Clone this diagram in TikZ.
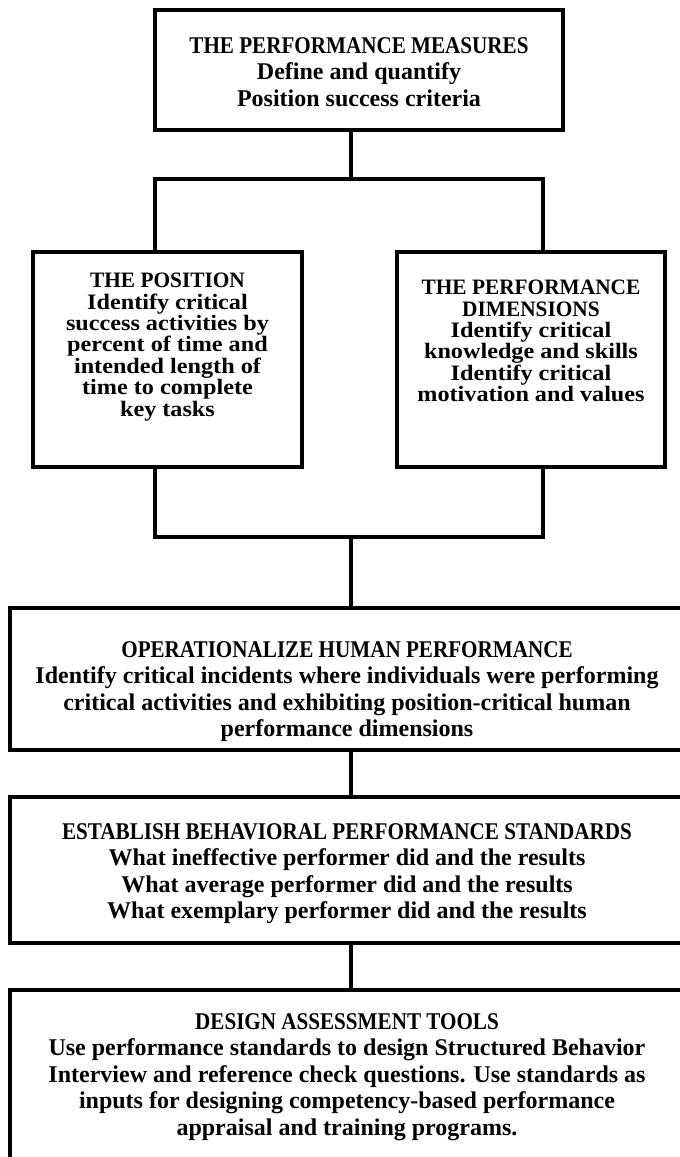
\documentclass[tikz,border=0pt]{standalone}
\usepackage{fontspec}
\setmainfont{Liberation Serif}
\newfontfamily\capsfont{Liberation Serif}[FakeStretch=0.88]
\newfontfamily\midfont{Liberation Serif}[FakeStretch=1.1]
\newfontfamily\midcapsfont{Liberation Serif}[FakeStretch=0.97]
\usetikzlibrary{positioning,calc}
\tikzstyle{box}=[draw, line width=3.5pt, inner sep=0pt, outer sep=0pt]
\tikzstyle{txt}=[inner sep=0pt, align=center, font=\bfseries\fontsize{24}{26.5}\selectfont]
\tikzstyle{midtxt}=[txt, font=\midfont\bfseries\fontsize{22}{21.4}\selectfont]
\tikzstyle{conn}=[line width=3.5pt, line cap=rect]
\newcommand{\wideW}{674pt}

\begin{document}
\begin{tikzpicture}[x=1pt,y=-1pt]
\useasboundingbox (0,0) rectangle (680,1157);
\node[box, minimum width=408pt, minimum height=120pt] (measures) at (359,70) {};
\node[box, minimum width=269pt, minimum height=215pt] (position) at (167.5,359.5) {};
\node[box, minimum width=268pt, minimum height=215pt] (dimensions) at (531,359.5) {};
\node[box, minimum width=\wideW, minimum height=142pt] (operational) at (347,679) {};
\node[box, minimum width=\wideW, minimum height=146pt] (standards) at (347,870) {};
\node[box, minimum width=\wideW, minimum height=185pt] (tools) at (347,1082.5) {};
\coordinate (fork) at (351,179);
\coordinate (forkL) at (155,179);
\coordinate (forkR) at (543,179);
\coordinate (joinL) at (155,537);
\coordinate (joinR) at (543,537);
\coordinate (join) at (351,537);
\node[txt, below=27pt of measures.north] (measurestxt)
  {{\capsfont THE PERFORMANCE MEASURES}\\Define and quantify\\Position success criteria};
\node[midtxt, below=21pt of position.north] (positiontxt)
  {{\midcapsfont THE POSITION}\\Identify critical\\success activities by\\percent of time and\\intended length of\\time to complete\\key tasks};
\node[midtxt, below=28pt of dimensions.north] (dimensionstxt)
  {{\midcapsfont THE PERFORMANCE}\\{\midcapsfont DIMENSIONS}\\Identify critical\\knowledge and skills\\Identify critical\\motivation and values};
\node[txt, below=33pt of operational.north] (operationaltxt)
  {{\capsfont OPERATIONALIZE HUMAN PERFORMANCE}\\Identify critical incidents where individuals were performing\\critical activities and exhibiting position-critical human\\performance dimensions};
\node[txt, below=26pt of standards.north] (standardstxt)
  {{\capsfont ESTABLISH BEHAVIORAL PERFORMANCE STANDARDS}\\What ineffective performer did and the results\\What average performer did and the results\\What exemplary performer did and the results};
\node[txt, below=23pt of tools.north] (toolstxt)
  {{\capsfont DESIGN ASSESSMENT TOOLS}\\Use performance standards to design Structured Behavior\\Interview and reference check questions. Use standards as\\inputs for designing competency-based performance\\appraisal and training programs.};
\draw[conn] (measures.south -| fork) -- (fork);
\draw[conn] (forkL) -- (forkR);
\draw[conn] (forkL) -- (forkL |- position.north);
\draw[conn] (forkR) -- (forkR |- dimensions.north);
\draw[conn] (position.south -| joinL) -- (joinL) -- (joinR) -- (dimensions.south -| joinR);
\draw[conn] (join) -- (join |- operational.north);
\draw[conn] (operational.south -| join) -- (join |- standards.north);
\draw[conn] (standards.south -| join) -- (join |- tools.north);
\end{tikzpicture}
\end{document}
